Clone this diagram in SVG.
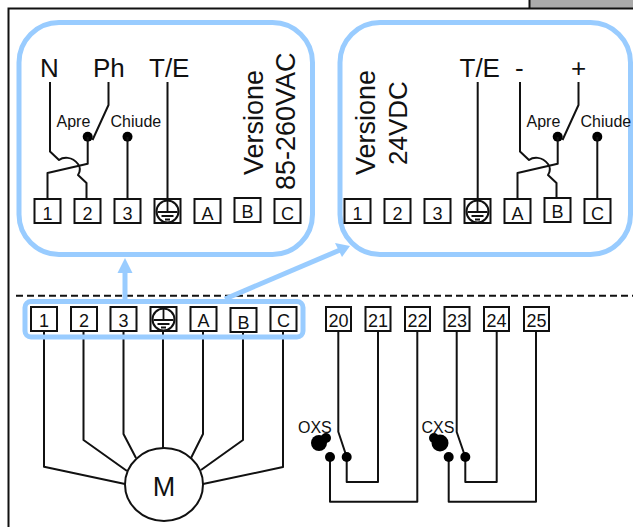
<svg xmlns="http://www.w3.org/2000/svg" width="633" height="527" viewBox="0 0 633 527">
<style>
text{font-family:"Liberation Sans",Arial,sans-serif;fill:#111}
.w{fill:none;stroke:#111;stroke-width:2;stroke-linejoin:round}
.t{fill:#fff;stroke:#111;stroke-width:2}
.p{fill:none;stroke:#99ccff;stroke-width:5}
.n{font-size:18px;text-anchor:middle}
.l{font-size:26px}
.s{font-size:16px}
.v{font-size:27px}
.d{fill:#000}
</style>
<defs>
<g id="gnd"><circle cx="13" cy="12.500" r="11" fill="#fff" stroke="#111" stroke-width="2"/><path d="M13 0V13M3 13H23M7 17H19M10.500 20.500H15.500" fill="none" stroke="#111" stroke-width="1.800"/></g>
<g id="sw"><path class="w" d="M50 82V151.500L59 160C63 157 72 156 78 164C81 168 80 172 78 175L86.500 183V198"/><path class="w" d="M108.500 82V105L92.500 140"/><circle class="d" cx="87.700" cy="136.700" r="5"/><path class="w" d="M87.700 137V163.700L47.500 173V198"/></g>
</defs>
<g id="frame">
<rect x="530" y="0" width="103" height="8" fill="#aaaaaa"/>
<path d="M529.500 0V8.500M633 8.500H8.500V527" fill="none" stroke="#111" stroke-width="2"/>
<path d="M16 295.700H633" fill="none" stroke="#111" stroke-width="2" stroke-dasharray="7 4"/>
</g>
<g id="panel-ac">
<rect class="p" x="19" y="22.500" width="293.500" height="232" rx="40"/>
<text class="l" x="40" y="77">N</text><text class="l" x="93" y="77">Ph</text><text class="l" x="149" y="77">T/E</text>
<text class="s" x="56.500" y="127">Apre</text><text class="s" x="110.500" y="127">Chiude</text>
<text class="v" transform="translate(263 175) rotate(-90)">Versione</text>
<text class="v" transform="translate(295 190) rotate(-90)">85-260VAC</text>
</g>
<g id="panel-dc">
<rect class="p" x="340" y="22.500" width="290.500" height="232" rx="40"/>
<text class="l" x="459.500" y="77">T/E</text><text class="l" x="515" y="77">-</text><text class="l" x="571" y="77">+</text>
<text class="s" x="526.500" y="127">Apre</text><text class="s" x="580.500" y="127">Chiude</text>
<text class="v" transform="translate(375 175) rotate(-90)">Versione</text>
<text class="l" transform="translate(407 165) rotate(-90)">24VDC</text>
</g>
<g id="connectors">
<use href="#sw"/>
<use href="#sw" x="470"/>
<path class="w" d="M167.500 82V198M477.700 82V198"/>
<circle class="d" cx="127.500" cy="136.700" r="5"/><path class="w" d="M127.500 137V198"/>
<circle class="d" cx="597.300" cy="136.700" r="5"/><path class="w" d="M597.300 137V198"/>
<path class="w" d="M44 331V466.700L125 484M83.500 331V440L127 471M123.500 331V434L136 458M163 331V448M203 331V434L191 458M243 331V440L201 470M283 331V467L203 484"/>
<path class="w" d="M338.300 331V431.700L346.700 457V482H378V331M330 457V501.700H417.300V331M456.700 331V432L465.300 457V482H496.700V331M448.700 457V501.700H536V331"/>
<path d="M125 300V268" fill="none" stroke="#99ccff" stroke-width="5"/><path d="M125 258L132.500 273H117.500Z" fill="#99ccff"/>
<path d="M225 299L340 250" fill="none" stroke="#99ccff" stroke-width="5"/><path d="M350 246L342 257L335 243Z" fill="#99ccff"/>
</g>
<rect id="bus" class="p" x="25" y="301.500" width="278" height="35.500" rx="6"/>
<g id="t-ac">
<rect class="t" x="34.500" y="199" width="26" height="24"/><text class="n" x="47.500" y="220">1</text>
<rect class="t" x="74.500" y="199" width="26" height="24"/><text class="n" x="87.500" y="220">2</text>
<rect class="t" x="114.500" y="199" width="26" height="24"/><text class="n" x="127.500" y="220">3</text>
<rect class="t" x="154.500" y="199" width="26" height="24"/><use href="#gnd" x="154.500" y="199"/>
<rect class="t" x="194.500" y="199" width="26" height="24"/><text class="n" x="207.500" y="220">A</text>
<rect class="t" x="234.500" y="198" width="26" height="24"/><text class="n" x="247.500" y="218">B</text>
<rect class="t" x="274.500" y="199" width="26" height="24"/><text class="n" x="287.500" y="220">C</text>
</g>
<g id="t-dc">
<rect class="t" x="344.500" y="199" width="26" height="24"/><text class="n" x="357.500" y="220">1</text>
<rect class="t" x="384.500" y="199" width="26" height="24"/><text class="n" x="397.500" y="220">2</text>
<rect class="t" x="424.500" y="199" width="26" height="24"/><text class="n" x="437.500" y="220">3</text>
<rect class="t" x="464.500" y="199" width="26" height="24"/><use href="#gnd" x="464.500" y="199"/>
<rect class="t" x="504.500" y="199" width="26" height="24"/><text class="n" x="517.500" y="220">A</text>
<rect class="t" x="544.500" y="198" width="26" height="24"/><text class="n" x="557.500" y="218">B</text>
<rect class="t" x="584.500" y="199" width="26" height="24"/><text class="n" x="597.500" y="220">C</text>
</g>
<g id="t-motor">
<rect class="t" x="31" y="307" width="26" height="24"/><text class="n" x="44" y="327">1</text>
<rect class="t" x="71" y="307" width="26" height="24"/><text class="n" x="84" y="327">2</text>
<rect class="t" x="110.500" y="307" width="26" height="24"/><text class="n" x="123.500" y="327">3</text>
<rect class="t" x="150.500" y="307" width="26" height="24"/><use href="#gnd" x="150.500" y="307"/>
<rect class="t" x="190.500" y="307" width="26" height="24"/><text class="n" x="203.500" y="327">A</text>
<rect class="t" x="230.500" y="308" width="26" height="24"/><text class="n" x="243.500" y="329">B</text>
<rect class="t" x="270.500" y="307" width="26" height="24"/><text class="n" x="283.500" y="327">C</text>
</g>
<g id="t-aux">
<rect class="t" x="326" y="307" width="25" height="24"/><text class="n" x="338.500" y="327">20</text>
<rect class="t" x="365.500" y="307" width="25" height="24"/><text class="n" x="378" y="327">21</text>
<rect class="t" x="405" y="307" width="25" height="24"/><text class="n" x="417.500" y="327">22</text>
<rect class="t" x="444.500" y="307" width="25" height="24"/><text class="n" x="457" y="327">23</text>
<rect class="t" x="484" y="307" width="25" height="24"/><text class="n" x="496.500" y="327">24</text>
<rect class="t" x="524" y="307" width="25" height="24"/><text class="n" x="536.500" y="327">25</text>
</g>
<g id="motor"><ellipse cx="164" cy="484.500" rx="39" ry="36.500" fill="#fff" stroke="#111" stroke-width="2"/><text x="164" y="496" font-size="27" text-anchor="middle">M</text></g>
<g id="oxs"><text class="s" x="298" y="433">OXS</text><circle class="d" cx="319" cy="443" r="8"/><circle class="d" cx="326" cy="438" r="5"/><circle class="d" cx="330" cy="457" r="5"/><circle class="d" cx="346.700" cy="457" r="5"/></g>
<g id="cxs"><text class="s" x="421.500" y="433">CXS</text><circle class="d" cx="440" cy="443" r="8.500"/><circle class="d" cx="434" cy="438" r="5"/><circle class="d" cx="448.700" cy="457" r="5"/><circle class="d" cx="465.300" cy="457" r="5"/></g>
</svg>
